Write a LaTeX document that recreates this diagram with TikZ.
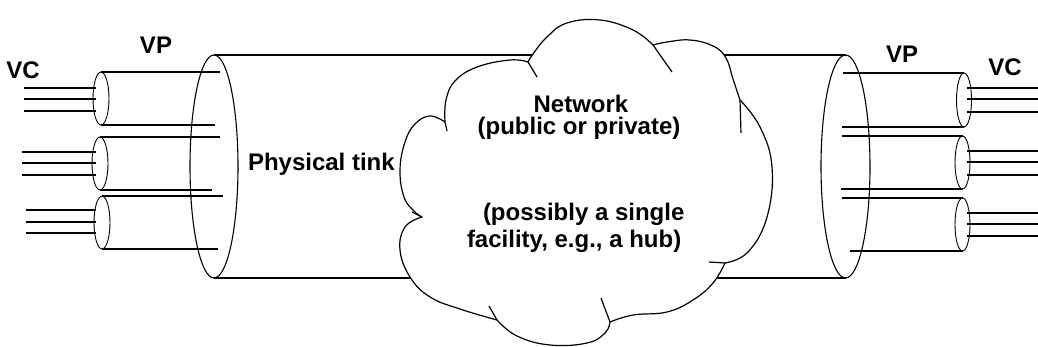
\documentclass[tikz,border=0pt]{standalone}
\usepackage{fontspec}
\setmainfont{Liberation Sans}
\usetikzlibrary{shapes.geometric}
\begin{document}
\begin{tikzpicture}[x=1pt,y=-1pt,
  tubeline/.style={line width=1.7pt},
  rim/.style={draw, ellipse, line width=1.1pt, inner sep=0pt, outer sep=0pt},
  smallrim/.style={draw, ellipse, line width=0.9pt, inner sep=0pt, outer sep=0pt,
                   minimum width=16pt, minimum height=53pt},
  vcline/.style={line width=1.6pt},
  cloudline/.style={line width=1.2pt, line join=round},
  lbl/.style={font=\bfseries\fontsize{24}{26}\selectfont, inner sep=0pt, outer sep=0pt}]
\useasboundingbox (0,0) rectangle (1038,346);

% ---------- big tube (physical link)
\node[rim, minimum width=48pt, minimum height=223pt] (bigL) at (214,166.5) {};
\node[rim, minimum width=49pt, minimum height=223pt] (bigR) at (845.5,166.5) {};
\draw[tubeline] (bigL.north) -- (bigR.north);
\draw[tubeline] (bigL.south) -- (bigR.south);

% ---------- left VP tubes
\node[smallrim] (l1) at (101,98.5) {};
\node[smallrim] (l2) at (100,163.5) {};
\node[smallrim] (l3) at (102,222.5) {};
\coordinate (l1t) at (220,72);  \coordinate (l1b) at (215,125);
\coordinate (l2t) at (220,137); \coordinate (l2b) at (212,190);
\coordinate (l3t) at (223,196); \coordinate (l3b) at (218,249);
\foreach \t in {l1,l2,l3}{
  \draw[tubeline] (\t.north) -- (\t t);
  \draw[tubeline] (\t.south) -- (\t b);
}

% ---------- right VP tubes
\node[smallrim, minimum width=15pt, minimum height=54pt] (r1) at (964,100) {};
\node[smallrim, minimum width=15pt] (r2) at (962.5,162.5) {};
\node[smallrim, minimum width=15pt] (r3) at (962.5,224.5) {};
\coordinate (r1t) at (843,73);  \coordinate (r1b) at (842,127);
\coordinate (r2t) at (842,136); \coordinate (r2b) at (841,189);
\coordinate (r3t) at (842,198); \coordinate (r3b) at (850,251);
\foreach \t in {r1,r2,r3}{
  \draw[tubeline] (\t t) -- (\t.north);
  \draw[tubeline] (\t b) -- (\t.south);
}

% ---------- VC lines, left
\foreach \t/\xs/\ya/\yb/\yc in {l1/24/88/99/111, l2/22/152/163/175, l3/26/210/222/233}{
  \foreach \k/\yy in {a/\ya, b/\yb, c/\yc}{
    \coordinate (\t vc\k s) at (\xs,\yy);
    \coordinate (\t vc\k e) at (96,\yy);
    \draw[vcline] (\t vc\k s) -- (\t vc\k e);
  }
}
% ---------- VC lines, right
\foreach \t/\ya/\yb/\yc in {r1/88/99/112, r2/151/162/175, r3/213/224/236}{
  \foreach \k/\yy in {a/\ya, b/\yb, c/\yc}{
    \coordinate (\t vc\k s) at (967,\yy);
    \coordinate (\t vc\k e) at (1038,\yy);
    \draw[vcline] (\t vc\k s) -- (\t vc\k e);
  }
}

% ---------- cloud (network)
\draw[cloudline, fill=white]
  plot[smooth, tension=0.7] coordinates {(528,62) (510,60) (477,67) (455,81) (446,100) (445,122)}
  -- plot[smooth, tension=0.7] coordinates {(445,122) (430,116) (415,124) (405,142) (400,170) (404,197) (414,211) (422,217)}
  -- plot[smooth, tension=0.7] coordinates {(422,217) (405,227) (400,250) (410,277) (430,297) (460,309) (497,320)}
  -- plot[smooth, tension=0.7] coordinates {(497,320) (517,336) (550,345) (587,343) (605,333) (610,322)}
  -- plot[smooth, tension=0.7] coordinates {(610,322) (633,315) (667,312) (693,300) (713,283) (725,263)}
  -- plot[smooth, tension=0.7] coordinates {(725,263) (748,252) (767,217) (772,167) (760,127) (740,100)}
  -- plot[smooth, tension=0.7] coordinates {(740,100) (733,79) (726,58) (713,46) (690,40) (667,42) (653,45)}
  -- plot[smooth, tension=0.7] coordinates {(653,45) (633,30) (600,20) (567,23) (547,37) (533,54) (528,62)}
  -- cycle;
% inner strokes of the cloud puffs
\draw[cloudline] (528,62) -- (537,77);
\draw[cloudline] (653,45) -- (672,72);
\draw[cloudline] (740,100) -- (741,133);
\draw[cloudline] (725,263) -- (709,262);
\draw[cloudline] (610,322) -- (601,298);
\draw[cloudline] (497,320) -- (489,306);
\draw[cloudline] (422,217) -- (412,212);
\draw[cloudline] (445,122) -- (447,131);

% ---------- labels
\node[lbl, anchor=base] (vcL) at (23,78.5) {VC};
\node[lbl, anchor=base] (vpL) at (156,53) {VP};
\node[lbl, anchor=base] (vpR) at (902,62) {VP};
\node[lbl, anchor=base] (vcR) at (1005,75) {VC};
\node[lbl, anchor=base west] (phys) at (248,170) {Physical tink};
\node[lbl, anchor=base] (net1) at (581,112) {Network};
\node[lbl, anchor=base] (net2) at (579,134) {(public or private)};
\node[lbl, anchor=base west] (fac1) at (483,220) {(possibly a single};
\node[lbl, anchor=base west] (fac2) at (467,247) {facility, e.g., a hub)};
\end{tikzpicture}
\end{document}
